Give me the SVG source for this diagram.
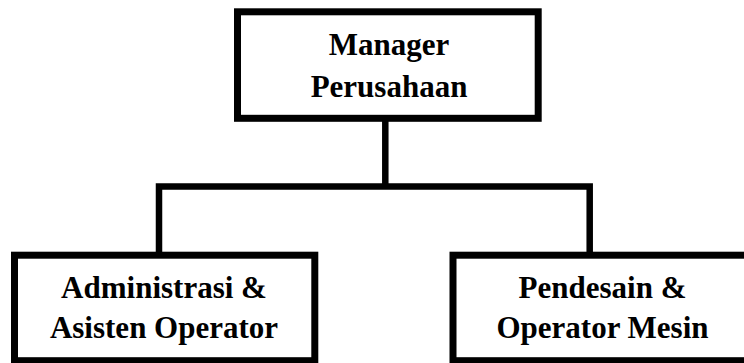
<svg xmlns="http://www.w3.org/2000/svg" width="744" height="363" viewBox="0 0 744 363">
  <style>
    .box { fill: #ffffff; stroke: #000000; stroke-width: 7; }
    .wire { fill: none; stroke: #000000; stroke-width: 6.5; stroke-linejoin: miter; }
    .label { font-family: "Liberation Serif", "Times New Roman", serif; font-weight: bold; font-size: 31px; fill: #000000; text-anchor: middle; }
  </style>
  <rect x="0" y="0" width="744" height="363" fill="#ffffff"/>

  <!-- connectors -->
  <g id="connectors">
    <path class="wire" d="M385.3 121 V186.5"/>
    <path class="wire" d="M159 252 V186.5 H589.7 V252"/>
  </g>

  <!-- top node -->
  <g id="manager">
    <rect class="box" x="237.5" y="11.8" width="300.7" height="106.5"/>
    <text class="label" x="389" y="55">Manager</text>
    <text class="label" x="389" y="96.7">Perusahaan</text>
  </g>

  <!-- left child -->
  <g id="administrasi">
    <rect class="box" x="14.5" y="255.2" width="300.3" height="105.5"/>
    <text class="label" x="164" y="298.3">Administrasi &amp;</text>
    <text class="label" x="164" y="338.3">Asisten Operator</text>
  </g>

  <!-- right child -->
  <g id="pendesain">
    <rect class="box" x="453" y="255.2" width="300" height="105.5"/>
    <text class="label" x="602.5" y="298.3">Pendesain &amp;</text>
    <text class="label" x="602.5" y="338.3">Operator Mesin</text>
  </g>
</svg>
